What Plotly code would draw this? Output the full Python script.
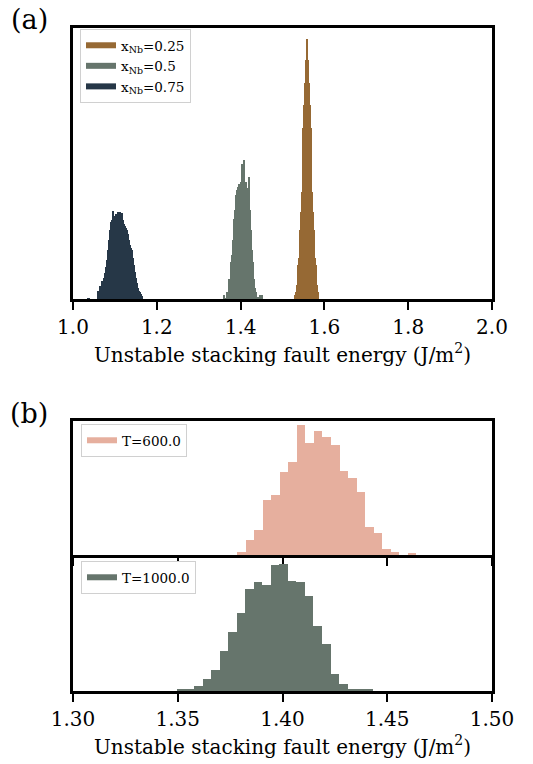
import plotly.graph_objects as go

# ---------------- Data ----------------
# Panel (a): histogram counts (arbitrary units) on fine bins
A_BIN_W = 1 / 420
A_025_START = 1.5298
A_025_COUNTS = [5, 8, 15, 35, 42, 70, 88, 108, 172, 195, 217, 240, 261, 240, 217,
                195, 172, 108, 88, 70, 42, 35, 15, 8]
A_050_START = 1.35833
A_050_COUNTS = [5, 0, 2, 8, 8, 21, 21, 38, 45, 60, 81, 90, 105, 110, 113, 116, 114,
                118, 136, 118, 140, 116, 118, 111, 112, 123, 90, 70, 50, 38, 21, 12,
                8, 3, 3, 2, 5, 0, 5, 0]
A_075_START = 1.03452
A_075_COUNTS = [2, 2, 0, 0, 0, 0, 0, 0, 0, 0, 9, 9, 14, 14, 19, 19, 22, 27, 33, 40,
                50, 60, 70, 78, 80, 89, 84, 82, 86, 84, 88, 85, 88, 84, 87, 80, 76,
                74, 72, 70, 66, 60, 55, 52, 50, 42, 35, 28, 22, 17, 12, 9, 8, 6, 4]
A_LABELS = ["x<sub>Nb</sub>=0.25", "x<sub>Nb</sub>=0.5", "x<sub>Nb</sub>=0.75"]
A_COLORS = ["#966934", "#66756c", "#263747"]

# Panel (b)
B600_START = 1.3783
B600_W = 0.004076
B600_COUNTS = [3, 15, 25, 55, 60, 83, 93, 130, 112, 124, 118, 110, 84, 77, 63, 28,
               22, 6, 3, 0, 2]
B1000_START = 1.34976
B1000_W = 0.004064
B1000_COUNTS = [2.5, 2.5, 6, 13, 22, 41, 60, 79, 103, 110, 107, 127, 128, 111, 110,
                96, 66, 48, 18, 8, 2.5, 2.5, 2.5]
B_LABELS = ["T=600.0", "T=1000.0"]
B_COLORS = ["#e6af9e", "#66756c"]

A_TICKS = [1.0, 1.2, 1.4, 1.6, 1.8, 2.0]
B_TICKS = [1.30, 1.35, 1.40, 1.45, 1.50]
XTITLE = "Unstable stacking fault energy (J/m<sup>2</sup>)"

FONT = "DejaVu Serif"
W, H = 533, 764


def centers(start, w, n):
    return [start + (i + 0.5) * w for i in range(n)]


def py(px):
    return 1 - px / H


fig = go.Figure()

a_sets = [(A_025_START, A_025_COUNTS), (A_050_START, A_050_COUNTS),
          (A_075_START, A_075_COUNTS)]
for (st, cnt), col in zip(a_sets, A_COLORS):
    fig.add_trace(go.Bar(x=centers(st, A_BIN_W, len(cnt)), y=cnt, width=A_BIN_W,
                         marker=dict(color=col, line=dict(width=0)),
                         showlegend=False, xaxis="x", yaxis="y"))
for lab, col in zip(A_LABELS, A_COLORS):
    fig.add_trace(go.Scatter(x=[None], y=[None], mode="lines", name=lab,
                             line=dict(color=col, width=6), legend="legend",
                             xaxis="x", yaxis="y"))

fig.add_trace(go.Bar(x=centers(B600_START, B600_W, len(B600_COUNTS)), y=B600_COUNTS,
                     width=B600_W, marker=dict(color=B_COLORS[0], line=dict(width=0)),
                     showlegend=False, xaxis="x2", yaxis="y2"))
fig.add_trace(go.Scatter(x=[None], y=[None], mode="lines", name=B_LABELS[0],
                         line=dict(color=B_COLORS[0], width=6), legend="legend2",
                         xaxis="x2", yaxis="y2"))
fig.add_trace(go.Bar(x=centers(B1000_START, B1000_W, len(B1000_COUNTS)), y=B1000_COUNTS,
                     width=B1000_W, marker=dict(color=B_COLORS[1], line=dict(width=0)),
                     showlegend=False, xaxis="x3", yaxis="y3"))
fig.add_trace(go.Scatter(x=[None], y=[None], mode="lines", name=B_LABELS[1],
                         line=dict(color=B_COLORS[1], width=6), legend="legend3",
                         xaxis="x3", yaxis="y3"))

xd = [73 / W, 492 / W]
common = dict(showline=True, linecolor="black", linewidth=3,
              showgrid=False, zeroline=False, automargin=False)
tickfont = dict(family=FONT, size=20, color="black")
legfont = dict(family=FONT, size=13.5, color="black")

fig.update_layout(
    width=W, height=H,
    margin=dict(l=0, r=0, t=0, b=0, pad=0, autoexpand=False),
    paper_bgcolor="white", plot_bgcolor="white", bargap=0,
    font=dict(family=FONT, color="black"),
    xaxis=dict(domain=xd, range=[1.0, 2.0], tickvals=A_TICKS,
               ticktext=[f"{v:.1f}" for v in A_TICKS], ticks="outside", ticklen=8,
               tickwidth=2, tickcolor="black", tickfont=tickfont,
               title=dict(text=XTITLE, font=dict(family=FONT, size=20), standoff=10),
               anchor="y", mirror=True, **common),
    yaxis=dict(domain=[py(299), py(27.5)], range=[0, 271.5],
               showticklabels=False, ticks="", anchor="x", mirror=True, **common),
    xaxis2=dict(domain=xd, range=[1.30, 1.50], tickvals=B_TICKS, showticklabels=False,
                ticks="outside", ticklen=8, tickwidth=2, tickcolor="black",
                anchor="y2", mirror=True, **common),
    yaxis2=dict(domain=[py(555), py(421)], range=[0, 134],
                showticklabels=False, ticks="", anchor="x2", mirror=True, **common),
    xaxis3=dict(domain=xd, range=[1.30, 1.50], tickvals=B_TICKS,
                ticktext=[f"{v:.2f}" for v in B_TICKS], ticks="outside", ticklen=8,
                tickwidth=2, tickcolor="black", tickfont=tickfont,
                title=dict(text=XTITLE, font=dict(family=FONT, size=20), standoff=10),
                anchor="y3", mirror=False, **common),
    yaxis3=dict(domain=[py(691), py(557.5)], range=[0, 133.5],
                showticklabels=False, ticks="", anchor="x3", mirror=True, **common),
    legend=dict(x=80 / W, y=py(29), xanchor="left", yanchor="top",
                bgcolor="white", bordercolor="#d0d0d0", borderwidth=1,
                font=legfont, tracegroupgap=0),
    legend2=dict(x=81 / W, y=py(424), xanchor="left", yanchor="top",
                 bgcolor="white", bordercolor="#d0d0d0", borderwidth=1,
                 font=legfont),
    legend3=dict(x=81 / W, y=py(561), xanchor="left", yanchor="top",
                 bgcolor="white", bordercolor="#d0d0d0", borderwidth=1,
                 font=legfont),
    annotations=[
        dict(text="(a)", x=29 / W, y=py(19), xref="paper", yref="paper",
             xanchor="center", yanchor="middle", showarrow=False,
             font=dict(family=FONT, size=27, color="black")),
        dict(text="(b)", x=29 / W, y=py(413), xref="paper", yref="paper",
             xanchor="center", yanchor="middle", showarrow=False,
             font=dict(family=FONT, size=27, color="black")),
    ],
)

fig.write_html("out.html")
